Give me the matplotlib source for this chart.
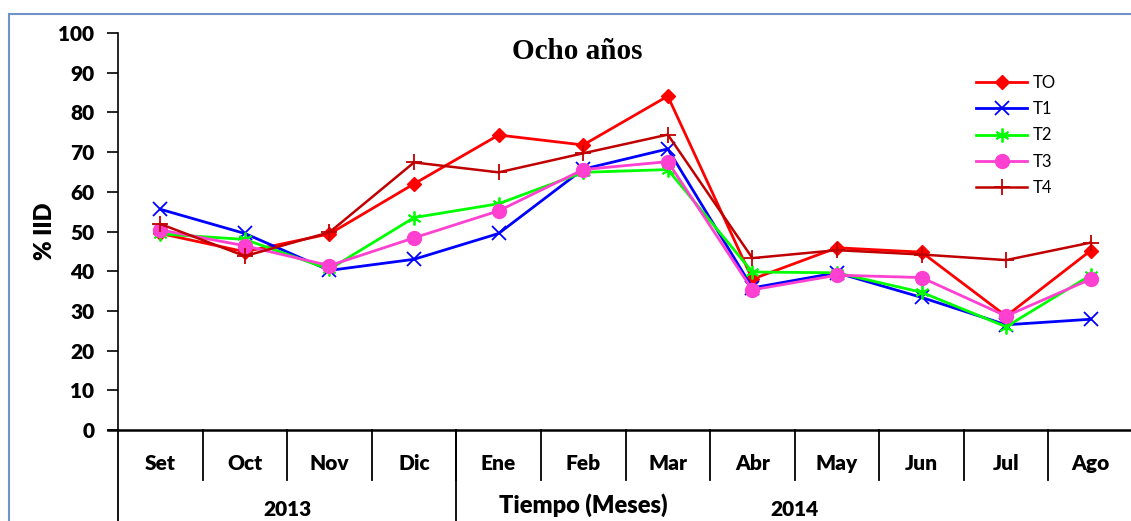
import matplotlib
matplotlib.use('Agg')
import matplotlib.pyplot as plt
from matplotlib.patches import Rectangle

meses = ['Set', 'Oct', 'Nov', 'Dic', 'Ene', 'Feb', 'Mar', 'Abr', 'May', 'Jun', 'Jul', 'Ago']
anios = ['2013', '2014']

to = [49.5, 44.9, 49.4, 62.0, 74.3, 71.8, 84.1, 38.0, 45.9, 44.8, 28.7, 45.2]
t1 = [55.6, 49.5, 40.2, 43.0, 49.5, 65.7, 70.8, 35.8, 39.6, 33.4, 26.5, 27.9]
t2 = [49.4, 48.0, 40.5, 53.5, 57.0, 64.9, 65.6, 39.8, 39.6, 34.7, 26.0, 39.0]
t3 = [50.4, 46.4, 41.4, 48.4, 55.2, 65.6, 67.6, 35.3, 39.0, 38.4, 28.7, 38.0]
t4 = [51.9, 43.8, 49.8, 67.4, 64.9, 69.7, 74.4, 43.3, 45.3, 44.2, 42.8, 47.2]

plt.rcParams['font.family'] = ['Lato', 'DejaVu Sans']
negrita = 'heavy'

fig = plt.figure(figsize=(11.31, 5.21), dpi=100)
ax = fig.add_axes([118 / 1131, 1 - 430 / 521, 1015 / 1131, (430 - 33) / 521])

x = list(range(len(meses)))
ax.plot(x, to, color='#ff0000', marker='D', ms=7, lw=2, label='TO')
ax.plot(x, t1, color='#0000ff', marker='x', ms=10, mew=1.3, lw=2, label='T1')
ax.plot(x, t2, color='#00ff00', marker=(6, 2, 0), ms=10, mew=1.3, lw=2, label='T2')
ax.plot(x, t3, color='#ff40d0', marker='o', ms=10, lw=2, label='T3')
ax.plot(x, t4, color='#c00000', marker='+', ms=12, mew=1.3, lw=1.8, label='T4')

ax.set_xlim(-0.5, 11.5)
ax.set_ylim(0, 100)
ax.set_yticks(range(0, 101, 10))
ax.tick_params(axis='y', direction='out', length=8, width=1.2, labelsize=15, pad=9)
for lab in ax.get_yticklabels():
    lab.set_fontweight(negrita)
ax.set_xticks([])
ax.spines['top'].set_visible(False)
ax.spines['right'].set_visible(False)
ax.spines['left'].set_linewidth(1.2)
ax.spines['bottom'].set_linewidth(1.8)
ax.spines['bottom'].set_bounds(-0.62, 11.5)

ax.set_ylabel('% IID', fontsize=17, fontweight=negrita, labelpad=2)
ax.text(0.4525, 0.953, 'Ocho años', transform=ax.transAxes, ha='center', va='center',
        family='Liberation Serif', fontweight='bold', fontsize=21)

# month labels and separators below the axis
trans = ax.get_xaxis_transform()
for i, m in enumerate(meses):
    ax.text(i, -0.085, m, transform=trans, ha='center', va='center',
            fontsize=15, fontweight=negrita)
for b in range(len(meses)):
    ax.plot([b + 0.5, b + 0.5], [0, -0.125], transform=trans, color='black', lw=1.3, clip_on=False)
for b in [-0.5, 3.5, 11.5]:
    ax.plot([b, b], [0, -0.25], transform=trans, color='black', lw=1.3, clip_on=False)
ax.text(1.5, -0.2, anios[0], transform=trans, ha='center', va='center', fontsize=15, fontweight=negrita)
ax.text(7.5, -0.2, anios[1], transform=trans, ha='center', va='center', fontsize=15, fontweight=negrita)
ax.text(5.0, -0.19, 'Tiempo (Meses)', transform=trans, ha='center', va='center',
        fontsize=17, fontweight=negrita)

ax.legend(loc='upper left', bbox_to_anchor=(0.845, 0.895), frameon=False,
          borderpad=0, borderaxespad=0, handlelength=3.1, labelspacing=0.62,
          handletextpad=0.35, prop={'size': 12})

fig.patches.append(Rectangle((8.5 / 1131, -0.1), 1.2, 1 - 13.5 / 521 + 0.1, transform=fig.transFigure,
                             fill=False, edgecolor='#6f93c8', lw=1.5))

fig.savefig('out.png', dpi=100)
